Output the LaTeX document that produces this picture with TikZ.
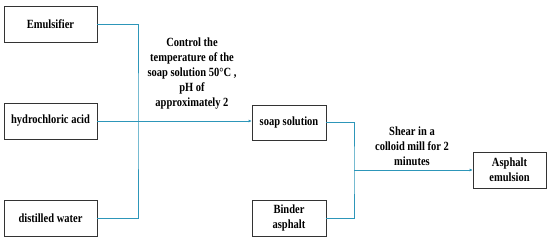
\documentclass[tikz,border=0pt]{standalone}
\usepackage{fontspec}
\setmainfont{Liberation Serif}[FakeStretch=0.84]
\usetikzlibrary{arrows.meta}
\definecolor{lineTeal}{RGB}{45, 150, 185}

\begin{document}
\begin{tikzpicture}[x=1pt, y=-1pt, font=\bfseries\fontsize{12.5}{15}\selectfont,
    box/.style={draw=black!80, line width=0.6pt, align=center, inner sep=1pt},
    flow/.style={draw=lineTeal, line width=0.9pt},
    arr/.style={flow, -{Latex[length=3pt, width=3pt]}}]
    \useasboundingbox (0,0) rectangle (550,241);
    \node[box, minimum width=93pt, minimum height=36pt] (E) at (50.5,24) {Emulsifier};
    \node[box, minimum width=93pt, minimum height=36pt] (H) at (50.5,121) {hydrochloric acid};
    \node[box, minimum width=93pt, minimum height=36pt] (W) at (50.5,218) {distilled water};
    \node[box, minimum width=74pt, minimum height=35pt] (S) at (289,122.5) {soap solution};
    \node[box, minimum width=74pt, minimum height=36pt] (B) at (289,218) {Binder\\asphalt};
    \node[box, minimum width=73pt, minimum height=36pt] (A) at (509.5,170) {Asphalt\\emulsion};
    \coordinate (J1) at (138,121);
    \coordinate (J2) at (354,170);
    \draw[flow] (E.east) -| (J1) |- (W.east);
    \draw[arr] (H.east) -- (S.west |- H.east);
    \draw[flow] (S.east) -| (J2) |- (B.east);
    \draw[arr] (J2) -- (A.west |- J2);
    \node[align=center] (T1) at (192,74) {Control the\\temperature of the\\soap solution 50\textdegree C ,\\pH of\\approximately 2};
    \node[align=center] (T2) at (412,146) {Shear in a\\colloid mill for 2\\minutes};
\end{tikzpicture}
\end{document}
